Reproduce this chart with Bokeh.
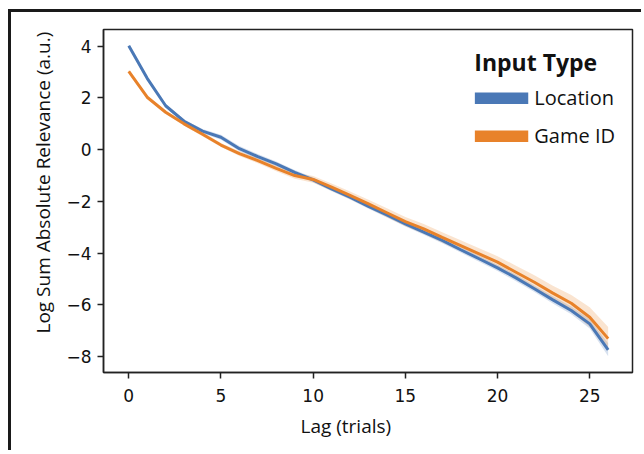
from bokeh.plotting import figure
from bokeh.models import (Range1d, FixedTicker, Legend, LegendItem, Title,
                          ColumnDataSource, Div, Spacer)
from bokeh.layouts import column, row
from bokeh.embed import file_html
from bokeh.resources import INLINE

lags = list(range(27))
location = [4.02, 2.76, 1.70, 1.10, 0.72, 0.48, 0.04, -0.27, -0.55, -0.88, -1.17,
            -1.52, -1.84, -2.19, -2.52, -2.87, -3.19, -3.51, -3.87, -4.22, -4.57,
            -4.96, -5.38, -5.81, -6.22, -6.74, -7.74]
location_err = [0.05, 0.06, 0.06, 0.07, 0.08, 0.10, 0.10, 0.10, 0.09, 0.09, 0.09,
                0.09, 0.09, 0.09, 0.10, 0.10, 0.10, 0.11, 0.11, 0.12, 0.12,
                0.13, 0.13, 0.14, 0.15, 0.18, 0.25]
game_id = [3.03, 2.03, 1.45, 1.00, 0.60, 0.18, -0.15, -0.42, -0.72, -1.00, -1.15,
           -1.45, -1.77, -2.10, -2.44, -2.78, -3.06, -3.39, -3.71, -4.03, -4.35,
           -4.74, -5.13, -5.55, -5.94, -6.48, -7.31]
game_id_err = [0.05, 0.06, 0.07, 0.07, 0.08, 0.08, 0.09, 0.10, 0.11, 0.12, 0.13,
               0.14, 0.15, 0.16, 0.17, 0.18, 0.19, 0.20, 0.21, 0.22, 0.23,
               0.25, 0.27, 0.29, 0.32, 0.38, 0.45]
x_ticks = [0, 5, 10, 15, 20, 25]
y_ticks = [-8, -6, -4, -2, 0, 2, 4]
series_names = ["Location", "Game ID"]
legend_title = "Input Type"
x_label = "Lag (trials)"
y_label = "Log Sum Absolute Relevance (a.u.)"

BLUE = "#4a78b6"
ORANGE = "#e8822a"
AX = "#222222"
EDGE = "#1a1a1a"
LABEL_FONT = "Open Sans"

p = figure(width=630, height=438, output_backend="svg", toolbar_location=None,
           x_range=Range1d(-1.37, 27.32), y_range=Range1d(-8.62, 4.65),
           min_border_left=92, min_border_right=9, min_border_top=17,
           min_border_bottom=78)
p.background_fill_color = "white"
p.border_fill_color = "white"
p.xgrid.visible = False
p.ygrid.visible = False
p.outline_line_color = AX
p.outline_line_width = 1.5

for ax in (p.xaxis[0], p.yaxis[0]):
    ax.axis_line_color = AX
    ax.axis_line_width = 1.5
    ax.major_tick_line_color = AX
    ax.major_tick_line_width = 1.5
    ax.major_tick_out = 6
    ax.major_tick_in = 0
    ax.minor_tick_line_color = None
    ax.major_label_text_font = "DejaVu Sans"
    ax.major_label_text_font_size = "17px"
    ax.major_label_text_color = "#111111"
    ax.major_label_standoff = 6
p.xaxis.major_label_standoff = 10

p.xaxis.ticker = FixedTicker(ticks=x_ticks)
p.yaxis.ticker = FixedTicker(ticks=y_ticks)
p.yaxis.major_label_overrides = {t: (("\u2212" + str(-t)) if t < 0 else str(t)) for t in y_ticks}
p.xaxis.major_label_overrides = {t: str(t) for t in x_ticks}

loc_lo = [v - e for v, e in zip(location, location_err)]
loc_hi = [v + e for v, e in zip(location, location_err)]
gid_lo = [v - e for v, e in zip(game_id, game_id_err)]
gid_hi = [v + e for v, e in zip(game_id, game_id_err)]

src = ColumnDataSource(dict(x=lags, loc=location, gid=game_id,
                            loc_lo=loc_lo, loc_hi=loc_hi, gid_lo=gid_lo, gid_hi=gid_hi))

p.varea(x="x", y1="loc_lo", y2="loc_hi", source=src, fill_color=BLUE, fill_alpha=0.22)
p.varea(x="x", y1="gid_lo", y2="gid_hi", source=src, fill_color=ORANGE, fill_alpha=0.22)
p.line(x="x", y="loc", source=src, line_color=BLUE, line_width=3)
p.line(x="x", y="gid", source=src, line_color=ORANGE, line_width=3)

# legend swatches: thick lines kept outside the visible range
sw1 = p.line(x=[-100, -99], y=[0, 0], line_color=BLUE, line_width=12)
sw2 = p.line(x=[-100, -99], y=[0, 0], line_color=ORANGE, line_width=12)
legend = Legend(items=[LegendItem(label=series_names[0], renderers=[sw1]),
                       LegendItem(label=series_names[1], renderers=[sw2])],
                location="top_right", title=legend_title,
                title_text_font=LABEL_FONT, title_text_font_style="bold",
                title_text_font_size="23px", title_text_color="#111111",
                title_standoff=6,
                label_text_font=LABEL_FONT, label_text_font_size="20px",
                label_text_color="#111111",
                glyph_width=54, glyph_height=12, label_height=24, spacing=11,
                label_standoff=6, padding=0, margin=17,
                border_line_color=None, background_fill_alpha=0)
p.add_layout(legend)

# axis labels as titles beside the axes, shifted like the reference
p.add_layout(Title(text=y_label, align="left", offset=39,
                   text_font=LABEL_FONT, text_font_size="19px",
                   text_font_style="normal", text_color="#111111",
                   standoff=16), "left")
p.add_layout(Title(text=x_label, align="left", offset=197,
                   text_font=LABEL_FONT, text_font_size="19px",
                   text_font_style="normal", text_color="#111111",
                   standoff=12), "below")

# outer frame edges (top and left) as in the reference crop
top_bar = Div(text="", width=633, height=3, margin=0,
              styles={"background-color": EDGE})
left_bar = Div(text="", width=3, height=438, margin=0,
               styles={"background-color": EDGE})
inner = column(top_bar, row(left_bar, p, spacing=0, margin=0), spacing=0, margin=0)
page = column(Spacer(height=9, margin=0),
              row(Spacer(width=8, margin=0), inner, spacing=0, margin=0),
              spacing=0, margin=0)

open("out.html", "w").write(file_html(page, INLINE))
